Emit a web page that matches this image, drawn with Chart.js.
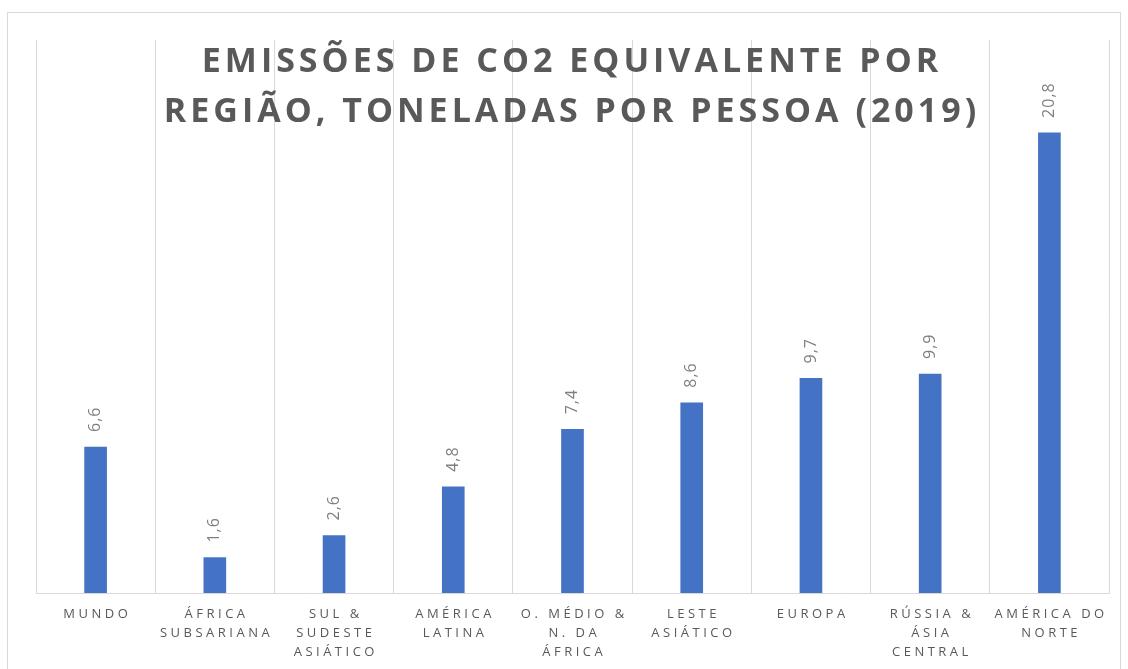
<!DOCTYPE html>
<html>
<head>
<meta charset="utf-8">
<script src="https://cdn.jsdelivr.net/npm/chart.js@4"></script>
<style>
  html, body { margin: 0; padding: 0; background: #fff; }
  #wrap { width: 1128px; height: 669px; position: relative; }
</style>
</head>
<body>
<div id="wrap"><canvas id="co2Chart" width="1128" height="669"></canvas></div>
<script>
const regions = [
    ["MUNDO"],
    ["ÁFRICA", "SUBSARIANA"],
    ["SUL &", "SUDESTE", "ASIÁTICO"],
    ["AMÉRICA", "LATINA"],
    ["O. MÉDIO &", "N. DA", "ÁFRICA"],
    ["LESTE", "ASIÁTICO"],
    ["EUROPA"],
    ["RÚSSIA &", "ÁSIA", "CENTRAL"],
    ["AMÉRICA DO", "NORTE"]
];
const emissions = [6.6, 1.6, 2.6, 4.8, 7.4, 8.6, 9.7, 9.9, 20.8];
const titleLines = ["EMISSÕES DE CO2 EQUIVALENTE POR", "REGIÃO, TONELADAS POR PESSOA (2019)"];

// frame, title, category labels and value labels drawn by hand (letter spacing)
const decorations = {
    id: "decorations",
    afterDraw(chart) {
        const ctx = chart.ctx;
        const xs = chart.scales.x;
        const meta = chart.getDatasetMeta(0);

        ctx.save();
        ctx.strokeStyle = "#d9d9d9";
        ctx.lineWidth = 1;
        ctx.strokeRect(7.5, 12.5, 1113, 700);

        // value labels, rotated
        ctx.fillStyle = "#7f7f7f";
        ctx.font = "16px 'Open Sans'";
        ctx.letterSpacing = "1px";
        ctx.textAlign = "left";
        ctx.textBaseline = "middle";
        meta.data.forEach(function (bar, i) {
            ctx.save();
            ctx.translate(bar.x, bar.y - 15);
            ctx.rotate(-Math.PI / 2);
            ctx.fillText(emissions[i].toFixed(1).replace(".", ","), 0, 0);
            ctx.restore();
        });

        // category labels
        ctx.fillStyle = "#595959";
        ctx.font = "13px 'Open Sans'";
        ctx.letterSpacing = "3.5px";
        ctx.textAlign = "center";
        ctx.textBaseline = "alphabetic";
        regions.forEach(function (lines, i) {
            const x = xs.getPixelForTick(i) + 1.75;
            lines.forEach(function (line, j) {
                ctx.fillText(line, x, 618 + j * 19);
            });
        });

        // title
        ctx.fillStyle = "#595959";
        ctx.font = "bold 34px 'Open Sans'";
        ctx.letterSpacing = "4px";
        titleLines.forEach(function (line, j) {
            ctx.fillText(line, 570 + 2, 72 + j * 50);
        });
        ctx.restore();
    }
};

const ctx = document.getElementById("co2Chart").getContext("2d");
const co2Chart = new Chart(ctx, {
    type: "bar",
    data: {
        labels: regions,
        datasets: [{
            data: emissions,
            backgroundColor: "#4472c4",
            borderWidth: 0,
            barThickness: 22
        }]
    },
    options: {
        responsive: false,
        animation: false,
        layout: {
            padding: { left: 36, right: 19, top: 40, bottom: 76 }
        },
        plugins: {
            legend: { display: false },
            tooltip: { enabled: false },
            title: { display: false }
        },
        scales: {
            x: {
                ticks: { display: false },
                grid: {
                    color: "#d9d9d9",
                    lineWidth: 1,
                    drawTicks: false,
                    offset: true
                },
                border: { color: "#d9d9d9", width: 1 }
            },
            y: {
                display: false,
                min: 0,
                max: 25
            }
        }
    },
    plugins: [decorations]
});
</script>
</body>
</html>
